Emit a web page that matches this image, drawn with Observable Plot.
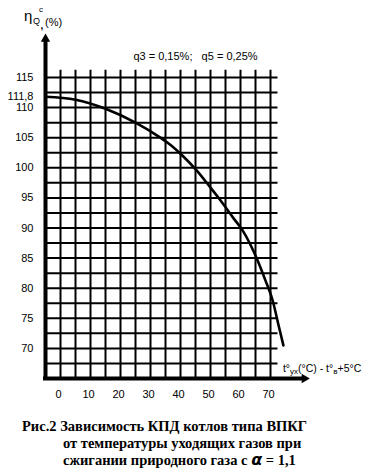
<!DOCTYPE html>
<html>
<head>
<meta charset="utf-8">
<script src="https://cdn.jsdelivr.net/npm/d3@7"></script>
<script src="https://cdn.jsdelivr.net/npm/@observablehq/plot@0.6"></script>
<style>
  html, body { margin: 0; padding: 0; background: #fff; }
  #chart svg { display: block; }
  #cap { font-family: "Liberation Serif", "Times New Roman", serif; font-weight: bold; font-size: 14.5px; line-height: 17px; margin-top: 13px; color: #000; }
  #cap div { height: 17px; white-space: nowrap; }
  #cap .l1 { padding-left: 22px; }
  #cap .l2 { padding-left: 63px; }
  .alpha { font-family: "DejaVu Sans", sans-serif; font-style: italic; font-size: 16px; font-weight: bold; line-height: 10px; }
</style>
</head>
<body>
<div id="chart"></div>
<div id="cap">
  <div class="l1">Рис.2 Зависимость КПД котлов типа ВПКГ</div>
  <div class="l2">от температуры уходящих газов при</div>
  <div class="l2">сжигании природного газа с <span class="alpha">α</span> = 1,1</div>
</div>
<script>
// Curve: boiler efficiency vs flue gas temperature
const tempX = [-5, 5, 15, 25, 33.3, 36.7, 40.7, 45.3, 50, 53.3, 57.7, 60.7, 65.7, 68.3, 70.7, 72.7, 74.3];
const effY  = [111.8, 111.3, 109.8, 107.5, 105.0, 103.8, 102.0, 99.6, 96.7, 94.6, 91.6, 89.6, 84.6, 81.3, 78.0, 73.8, 70.5];

// Ticks and grid
const xTicks = [0, 10, 20, 30, 40, 50, 60, 70];
const yTicks = [70, 75, 80, 85, 90, 95, 100, 105, 110, 115, 111.8];
const xGrid = [0, 5, 10, 15, 20, 25, 30, 35, 40, 45, 50, 55, 60, 65, 70];
const yGrid = [67.5, 70, 72.5, 75, 77.5, 80, 82.5, 85, 87.5, 90, 92.5, 95, 97.5, 100, 102.5, 105, 107.5, 110, 112.5, 115];

// Extents
const xMin = -5, xGridEnd = 72.5, xAxisEnd = 80, xArrow = 81.3;
const yMin = 65, yGridTop = 116.2, yAxisEnd = 121, yArrow = 121.4;

const noteText = "q3 = 0,15%;\u00a0\u00a0\u00a0q5 = 0,25%";
const noteX = 45, noteY = 118.5;

const curve = tempX.map((x, i) => ({x, y: effY[i]}));
const fmt = d => String(d).replace(".", ",");

const chart = Plot.plot({
  width: 383,
  height: 405,
  marginLeft: 45,
  marginRight: 98,
  marginTop: 77,
  marginBottom: 27,
  x: {domain: [-5, 75]},
  y: {domain: [65, 115]},
  style: {fontFamily: "'Liberation Sans', Arial, sans-serif", background: "white", color: "black", overflow: "visible"},
  marks: [
    Plot.ruleX(xGrid, {y1: yMin, y2: yGridTop, stroke: "black", strokeWidth: 2}),
    Plot.ruleY(yGrid, {x1: xMin, x2: xGridEnd, stroke: "black", strokeWidth: 2}),
    Plot.ruleX([xMin], {y1: yMin, y2: yAxisEnd, stroke: "black", strokeWidth: 4, strokeLinecap: "square"}),
    Plot.ruleY([yMin], {x1: xMin, x2: xAxisEnd, stroke: "black", strokeWidth: 4, strokeLinecap: "square"}),
    Plot.dot([{x: xMin, y: yArrow}], {x: "x", y: "y", symbol: "triangle2", r: 4.5, fill: "black", stroke: "none"}),
    Plot.dot([{x: xArrow, y: yMin}], {x: "x", y: "y", symbol: "triangle2", r: 4.5, fill: "black", stroke: "none", rotate: 90}),
    Plot.line(curve, {x: "x", y: "y", curve: "monotone-x", stroke: "black", strokeWidth: 2.6}),
    Plot.axisX(xTicks, {tickSize: 0, tickPadding: 12, fontSize: 11, dx: -2, label: null}),
    Plot.axisY(yTicks, {tickSize: 0, tickPadding: 12, fontSize: 11, tickFormat: fmt, label: null}),
    Plot.text([noteText], {x: noteX, y: noteY, text: d => d, fontSize: 11})
  ]
});
document.getElementById("chart").append(chart);

// Composite labels with sub/superscripts
const svg = d3.select(chart);
const font = "'Liberation Sans', Arial, sans-serif";
const yl = svg.append("g").attr("font-family", font).attr("fill", "black").attr("text-anchor", "start");
yl.append("text").attr("x", 24).attr("y", 21).attr("font-size", 15).text("η");
yl.append("text").attr("x", 33).attr("y", 24).attr("font-size", 9).text("Q");
yl.append("text").attr("x", 39).attr("y", 12).attr("font-size", 8).text("c");
yl.append("text").attr("x", 40.5).attr("y", 29).attr("font-size", 10).attr("font-weight", "bold").text(",");
yl.append("text").attr("x", 45).attr("y", 26).attr("font-size", 11).text("(%)");

const sx = chart.scale("x"), sy = chart.scale("y");
const xl = svg.append("text").attr("font-family", font).attr("font-size", 10.5).attr("fill", "black")
  .attr("text-anchor", "start")
  .attr("x", sx.apply(74.3)).attr("y", sy.apply(65) - 6);
xl.append("tspan").text("t°");
xl.append("tspan").attr("font-size", 8).attr("dy", 2).text("ух");
xl.append("tspan").attr("dy", -2).text("(°С) - t°");
xl.append("tspan").attr("font-size", 8).attr("dy", 2).text("в");
xl.append("tspan").attr("dy", -2).text("+5°С");
</script>
</body>
</html>
